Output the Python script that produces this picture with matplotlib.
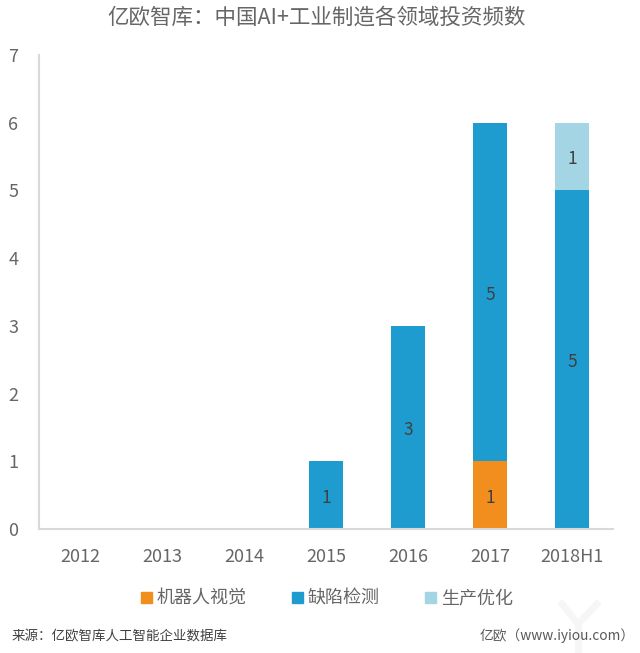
import numpy as np
import matplotlib
matplotlib.use('Agg')
import matplotlib.pyplot as plt
from matplotlib.lines import Line2D
from matplotlib.patches import Rectangle

plt.rcParams['font.family'] = ['Noto Sans CJK SC', 'DejaVu Sans']

years = ['2012', '2013', '2014', '2015', '2016', '2017', '2018H1']
robot = [0, 0, 0, 0, 0, 1, 0]
defect = [0, 0, 0, 1, 3, 5, 5]
optimize = [0, 0, 0, 0, 0, 0, 1]
names = ['机器人视觉', '缺陷检测', '生产优化']
colors = ['#f28e1e', '#1f9ccf', '#a3d5e5']

text_col = '#666666'
fig = plt.figure(figsize=(6.4, 6.53), dpi=100)
ax = fig.add_axes([39 / 640, 1 - 529 / 653, (613 - 39) / 640, (529 - 55) / 653])

x = np.arange(len(years))
robot = np.array(robot)
defect = np.array(defect)
optimize = np.array(optimize)
ax.bar(x, robot, 0.41, color=colors[0])
ax.bar(x, defect, 0.41, bottom=robot, color=colors[1])
ax.bar(x, optimize, 0.41, bottom=robot + defect, color=colors[2])


def value_label(xpos, ypos, val):
    ax.annotate(str(val), (xpos, ypos), xytext=(0, -2), textcoords='offset points',
                ha='center', va='center', fontsize=12.5, color='#404040')


# value labels
for i in x:
    if robot[i] > 0:
        value_label(i, robot[i] / 2, robot[i])
    if defect[i] > 0:
        value_label(i, robot[i] + defect[i] / 2, defect[i])
    if optimize[i] > 0:
        value_label(i, robot[i] + defect[i] + optimize[i] / 2, optimize[i])

ax.set_xlim(-0.5, 6.5)
ax.set_ylim(0, 7)
ax.set_xticks(x)
ax.set_xticklabels(years)
ax.set_yticks(range(8))
ax.tick_params(axis='both', length=0, labelsize=13, labelcolor=text_col)
ax.tick_params(axis='x', pad=14)
ax.tick_params(axis='y', pad=15)
ax.spines['top'].set_visible(False)
ax.spines['right'].set_visible(False)
ax.spines['left'].set_color('#d9d9d9')
ax.spines['bottom'].set_color('#d9d9d9')
ax.spines['left'].set_linewidth(1.5)
ax.spines['bottom'].set_linewidth(1.5)

fig.text(317 / 640, 1 - 18 / 653, '亿欧智库：中国AI+工业制造各领域投资频数', ha='center', va='center', fontsize=15.5, color=text_col)

# legend
for px, c, n in zip([141, 292, 425], colors, names):
    fig.add_artist(Rectangle((px / 640, 1 - 603 / 653), 11 / 640, 11 / 653, transform=fig.transFigure, color=c))
    fig.text((px + 16) / 640, 1 - 598.5 / 653, n, ha='left', va='center', fontsize=13, color=text_col)

# faint watermark, drawn as strokes
for xs, ys in [([562, 578], [604, 624]), ([597, 578], [604, 624]), ([578, 578], [624, 650])]:
    fig.add_artist(Line2D([v / 640 for v in xs], [1 - v / 653 for v in ys], transform=fig.transFigure,
                          color='#f6f6f6', lw=5, zorder=0))

fig.text(12 / 640, 1 - 636 / 653, '来源：亿欧智库人工智能企业数据库', ha='left', va='center', fontsize=9.7, color='#404040')
fig.text(480 / 640, 1 - 636 / 653, '亿欧（www.iyiou.com）', ha='left', va='center', fontsize=9.9, color='#595959')

fig.savefig('out.png', dpi=100)
